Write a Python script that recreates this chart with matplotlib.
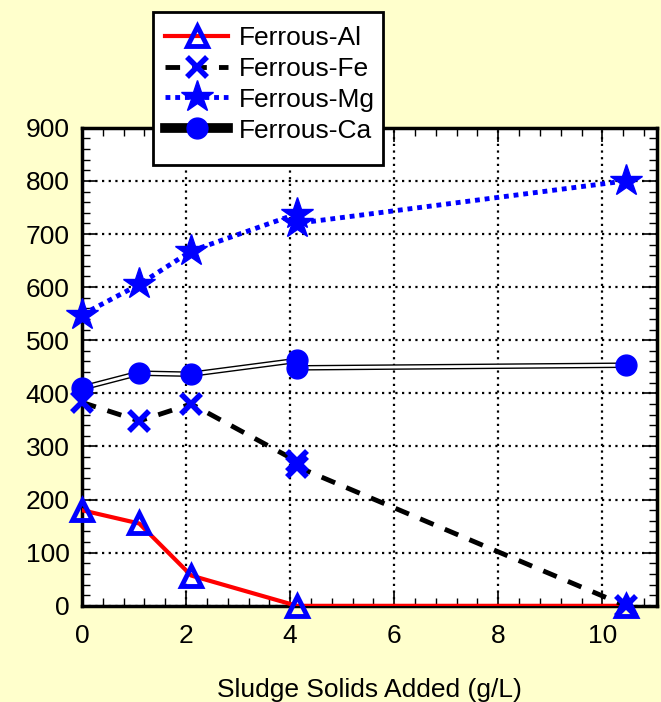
import matplotlib
matplotlib.use("Agg")
import matplotlib.pyplot as plt
from matplotlib.ticker import MultipleLocator
from matplotlib.lines import Line2D
from matplotlib.patches import Rectangle

plt.rcParams["font.family"] = ["Liberation Sans", "DejaVu Sans"]

# data
al_x = [0, 1.1, 2.1, 4.13, 10.45]
al_y = [180, 155, 57, 0, 0]

fe_x = [0, 1.1, 2.1, 4.13, 4.13, 10.45]
fe_y = [383, 348, 380, 272, 262, 0]

mg_x = [0, 1.1, 2.1, 4.13, 4.13, 10.45]
mg_y = [548, 605, 668, 738, 720, 800]

ca_x = [0, 1.1, 2.1, 4.13, 4.13, 10.45]
ca_y = [410, 438, 436, 462, 448, 453]

xticks = [0, 2, 4, 6, 8, 10]
yticks = [0, 100, 200, 300, 400, 500, 600, 700, 800, 900]

BG = "#ffffcc"
BLUE = "#0000ff"
FS = 19
W, H = 661, 702

fig = plt.figure(figsize=(W / 100, H / 100), dpi=100, facecolor=BG)
ax = fig.add_axes([0.124, 0.137, 0.870, 0.681])
ax.set_facecolor("white")

# Ferrous-Ca drawn as a hollow double line like the original
ax.plot(ca_x, ca_y, color="black", lw=4.0, zorder=3)
ax.plot(ca_x, ca_y, color="white", lw=2.0, zorder=3.1)
ax.plot(ca_x, ca_y, ls="none", marker="o", ms=15, color=BLUE, zorder=5, clip_on=False)

ax.plot(al_x, al_y, color="red", lw=3, zorder=4)
ax.plot(al_x, al_y, ls="none", marker="^", ms=15, mfc="none", mec=BLUE, mew=3.5,
        zorder=6, clip_on=False)

ax.plot(fe_x, fe_y, color="black", lw=3.5, ls=(0, (3, 2.5)), zorder=4)
ax.plot(fe_x, fe_y, ls="none", marker="x", ms=15, mec=BLUE, mew=4, zorder=6, clip_on=False)

ax.plot(mg_x, mg_y, color=BLUE, lw=3.5, ls=(0, (1, 1)), zorder=4)
ax.plot(mg_x, mg_y, ls="none", marker="*", ms=24, color=BLUE, zorder=6, clip_on=False)

ax.set_xlim(0, 11.05)
ax.set_ylim(0, 900)
ax.set_xticks(xticks)
ax.set_yticks(yticks)
ax.xaxis.set_minor_locator(MultipleLocator(0.4))
ax.yaxis.set_minor_locator(MultipleLocator(20))
ax.tick_params(which="both", direction="in", top=True, right=True, labelsize=FS, colors="black")
ax.tick_params(which="major", length=10, width=1.2, pad=9)
ax.tick_params(axis="x", which="major", pad=13)
ax.tick_params(which="minor", length=6, width=1)
ax.grid(True, which="major", color="black", ls=(0, (1, 2)), lw=1.6, zorder=1)
for s in ax.spines.values():
    s.set_linewidth(2.5)

ax.set_xlabel("Sludge Solids Added (g/L)", fontsize=FS, labelpad=22)

# legend box: drawn separately so it keeps the extra space under the last row
fig.patches.append(Rectangle((153 / W, 1 - 165 / H), 230 / W, 153 / H, transform=fig.transFigure,
                             facecolor="white", edgecolor="black", lw=2, zorder=2))

handles = [
    Line2D([], [], color="red", lw=3, marker="^", ms=15, mfc="none", mec=BLUE, mew=3.5),
    Line2D([], [], color="black", lw=3.5, ls=(0, (3, 2.5)), marker="x", ms=15, mec=BLUE, mew=4),
    Line2D([], [], color=BLUE, lw=3.5, ls=(0, (1, 1)), marker="*", ms=24),
    Line2D([], [], color="black", lw=7, marker="o", ms=15, mfc=BLUE, mec=BLUE),
]
labels = ["Ferrous-Al", "Ferrous-Fe", "Ferrous-Mg", "Ferrous-Ca"]
leg = fig.legend(handles, labels, loc="upper left", bbox_to_anchor=(165 / W, 1 - 26 / H),
                 fontsize=FS, frameon=False, handlelength=2.4, labelspacing=0.26,
                 borderpad=0.0, handletextpad=0.4, borderaxespad=0)
leg.set_zorder(3)

fig.savefig("out.png", dpi=100, facecolor=BG)
